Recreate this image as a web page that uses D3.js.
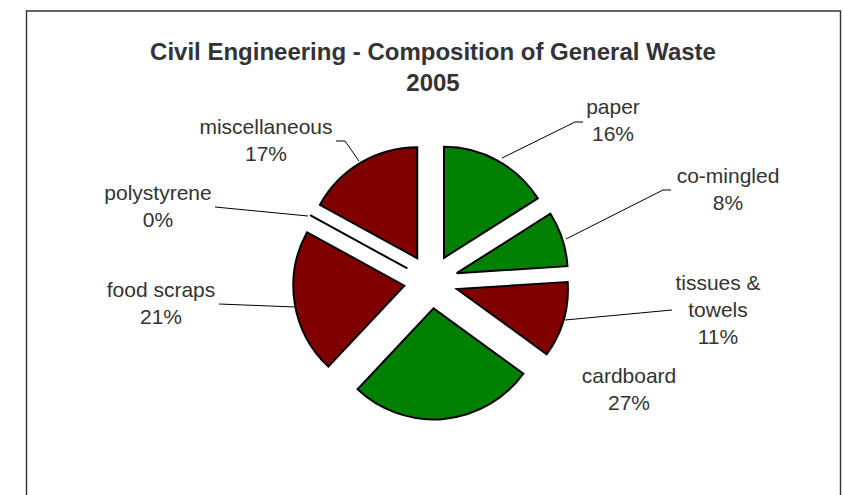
<!DOCTYPE html>
<html>
<head>
<meta charset="utf-8">
<script src="https://cdn.jsdelivr.net/npm/d3@7"></script>
<style>
  html, body { margin: 0; padding: 0; background: #fff; }
  svg { display: block; }
  text { font-family: Arial, "Liberation Sans", sans-serif; fill: #333; }
</style>
</head>
<body>
<svg id="chart" width="843" height="495"></svg>
<script>
// ---- data ----
const categories = ["paper", "co-mingled", "tissues & towels", "cardboard", "food scraps", "polystyrene", "miscellaneous"];
const values = [16, 8, 11, 27, 21, 0, 17];
const sliceColors = ["#008000", "#008000", "#800000", "#008000", "#800000", "#800000", "#800000"];
const labelLines = [["paper", "16%"], ["co-mingled", "8%"], ["tissues &", "towels", "11%"], ["cardboard", "27%"], ["food scraps", "21%"], ["polystyrene", "0%"], ["miscellaneous", "17%"]];
const titleLines = ["Civil Engineering - Composition of General Waste", "2005"];

// ---- layout (not data) ----
const W = 843, H = 495;
const cx = 431, cy = 281.5, R = 111, explode = 27;
const labelAnchor = [[613, 114], [728, 183], [718, 290], [629, 383], [161, 297], [158, 200], [266, 134]];
const leaders = [
  [[502, 158], [575, 122], [583, 122]],
  [[566, 239], [663, 190], [671, 190]],
  [[565, 320], [672, 310]],
  null,
  [[219, 304], [295, 307]],
  [[215, 207], [308, 216]],
  [[336, 141], [345, 141], [359, 161]]
];

const svg = d3.select("#chart");

// frame
svg.append("path")
  .attr("d", `M26.5,${H + 5} L26.5,11 L840.5,11 L840.5,${H + 5}`)
  .attr("fill", "none").attr("stroke", "#333").attr("stroke-width", 1.4);

// title
const title = svg.append("text").attr("text-anchor", "middle")
  .style("font-size", "24px").style("font-weight", "bold");
titleLines.forEach((t, i) => {
  title.append("tspan").attr("x", 433).attr("y", 60 + i * 31).text(t);
});

// pie
const pie = d3.pie().sort(null).value(d => d)(values);
const arc = d3.arc().innerRadius(0).outerRadius(R);
const g = svg.append("g").attr("transform", `translate(${cx},${cy})`);
g.selectAll("path.slice").data(pie).join("path")
  .attr("class", "slice")
  .attr("d", arc)
  .attr("transform", d => {
    const a = (d.startAngle + d.endAngle) / 2;
    return `translate(${explode * Math.sin(a)},${-explode * Math.cos(a)})`;
  })
  .attr("fill", (d, i) => sliceColors[i])
  .attr("stroke", "#000")
  .attr("stroke-width", 2)
  .attr("stroke-linejoin", "miter");

// leader lines
const line = d3.line();
leaders.forEach(pts => {
  if (!pts) return;
  svg.append("path").attr("d", line(pts))
    .attr("fill", "none").attr("stroke", "#000").attr("stroke-width", 1);
});

// labels
labelLines.forEach((lines, i) => {
  const t = svg.append("text").attr("text-anchor", "middle").style("font-size", "21px");
  lines.forEach((s, j) => {
    t.append("tspan").attr("x", labelAnchor[i][0]).attr("y", labelAnchor[i][1] + j * 27).text(s);
  });
});
</script>
</body>
</html>
